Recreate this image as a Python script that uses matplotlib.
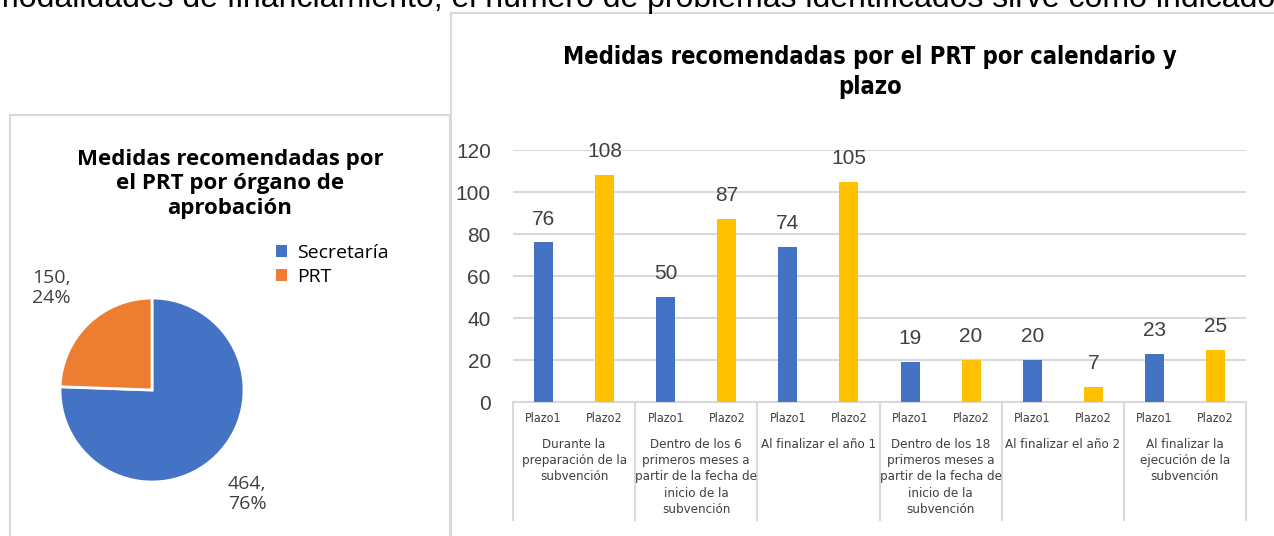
import matplotlib
matplotlib.use("Agg")
import matplotlib.pyplot as plt
from matplotlib.patches import Rectangle, Patch
from matplotlib.lines import Line2D
import numpy as np

# ---- data ----
pie_labels = ["Secretaría", "PRT"]
pie_values = [464, 150]
pie_pct = ["76%", "24%"]

groups = ["Durante la\npreparación de la\nsubvención",
          "Dentro de los 6\nprimeros meses a\npartir de la fecha de\ninicio de la\nsubvención",
          "Al finalizar el año 1",
          "Dentro de los 18\nprimeros meses a\npartir de la fecha de\ninicio de la\nsubvención",
          "Al finalizar el año 2",
          "Al finalizar la\nejecución de la\nsubvención"]
plazos = ["Plazo1", "Plazo2"]
plazo1 = [76, 50, 74, 19, 20, 23]
plazo2 = [108, 87, 105, 20, 7, 25]
yticks = [0, 20, 40, 60, 80, 100, 120]

BLUE = "#4472C4"
ORANGE = "#ED7D31"
GOLD = "#FFC000"
GRID = "#D9D9D9"
TXT = "#404040"
COND = dict(family="DejaVu Sans", stretch="condensed")

W, H = 1274, 536
fig = plt.figure(figsize=(W / 100, H / 100), dpi=100)


def px(x0, y0, w, h):
    # pixel box (top-left origin) -> figure fraction
    return [x0 / W, 1 - (y0 + h) / H, w / W, h / H]


# chart frames
fig.patches.append(Rectangle((10 / W, -0.1), 440 / W, 1.1 - 115 / H, transform=fig.transFigure,
                             fill=False, edgecolor=GRID, lw=1.5))
fig.patches.append(Rectangle((451 / W, -0.1), 900 / W, 1.1 - 13 / H, transform=fig.transFigure,
                             fill=False, edgecolor=GRID, lw=1.5))

# clipped body text at the very top
fig.text(-8 / W, 1 - 7 / H,
         "modalidades de financiamiento, el número de problemas identificados sirve como indicador",
         fontsize=23, family="Liberation Sans", color="black", va="baseline", ha="left")

# ---- pie ----
axp = fig.add_axes(px(60, 298, 184, 184))
axp.pie(pie_values, colors=[BLUE, ORANGE], startangle=90, counterclock=False,
        wedgeprops=dict(edgecolor="white", linewidth=2))
axp.set_xlim(-1, 1)
axp.set_ylim(-1, 1)
axp.set_aspect("equal")
axp.axis("off")

fig.text(230 / W, 1 - 184 / H, "Medidas recomendadas por\nel PRT por órgano de\naprobación",
         ha="center", va="center", fontsize=16, fontweight="bold", family="Open Sans",
         linespacing=1.2)

fig.text(32 / W, 1 - 288 / H, f"{pie_values[1]},\n{pie_pct[1]}", ha="left", va="center",
         fontsize=14, color=TXT, family="Open Sans", linespacing=1.2)
fig.text(228 / W, 1 - 494 / H, f"{pie_values[0]},\n{pie_pct[0]}", ha="left", va="center",
         fontsize=14, color=TXT, family="Open Sans", linespacing=1.2)

handles = [Patch(facecolor=c, edgecolor="none") for c in [BLUE, ORANGE]]
fig.legend(handles, pie_labels, loc="upper left", bbox_to_anchor=(266 / W, 1 - 234 / H),
           frameon=False, handlelength=0.6, handleheight=0.6,
           handletextpad=0.5, labelspacing=0.3, borderpad=0,
           prop=dict(family="Open Sans", size=14))

# ---- bars ----
ax = fig.add_axes(px(513, 150, 733, 252))
n = len(groups)
pos1 = np.arange(n) * 2
pos2 = pos1 + 1
bw = 0.31
b1 = ax.bar(pos1, plazo1, width=bw, color=BLUE, zorder=3)
b2 = ax.bar(pos2, plazo2, width=bw, color=GOLD, zorder=3)
for bars in (b1, b2):
    ax.bar_label(bars, padding=10, fontsize=15, color=TXT, family="Liberation Sans")

ax.set_xlim(-0.5, 2 * n - 0.5)
ax.set_ylim(0, 120)
ax.set_yticks(yticks)
ax.tick_params(axis="y", length=0, labelsize=15, labelcolor=TXT, pad=16)
for lab in ax.get_yticklabels():
    lab.set_family("Liberation Sans")
ax.grid(axis="y", color=GRID, lw=1.5, zorder=0)
for s in ["top", "right", "left"]:
    ax.spines[s].set_visible(False)
ax.spines["bottom"].set_color(GRID)
ax.spines["bottom"].set_linewidth(1.5)
ax.set_xticks([])

# two-level category labels
trans = ax.get_xaxis_transform()
for i in range(n):
    for j, p in enumerate(plazos):
        ax.text(2 * i + j, -16 / 252, p, transform=trans, ha="center", va="center",
                fontsize=9, color=TXT, clip_on=False, **COND)
    ax.text(2 * i + 0.5, -36 / 252, groups[i], transform=trans, ha="center", va="top",
            fontsize=9.5, color=TXT, linespacing=1.32, clip_on=False, **COND)
for k in range(n + 1):
    ax.add_line(Line2D([2 * k - 0.5] * 2, [0, -118 / 252], transform=trans,
                       color=GRID, lw=1.5, clip_on=False))

fig.text(870 / W, 1 - 72 / H, "Medidas recomendadas por el PRT por calendario y\nplazo",
         ha="center", va="center", fontsize=17, fontweight="bold",
         linespacing=1.3, **COND)

fig.savefig("out.png", dpi=100)
